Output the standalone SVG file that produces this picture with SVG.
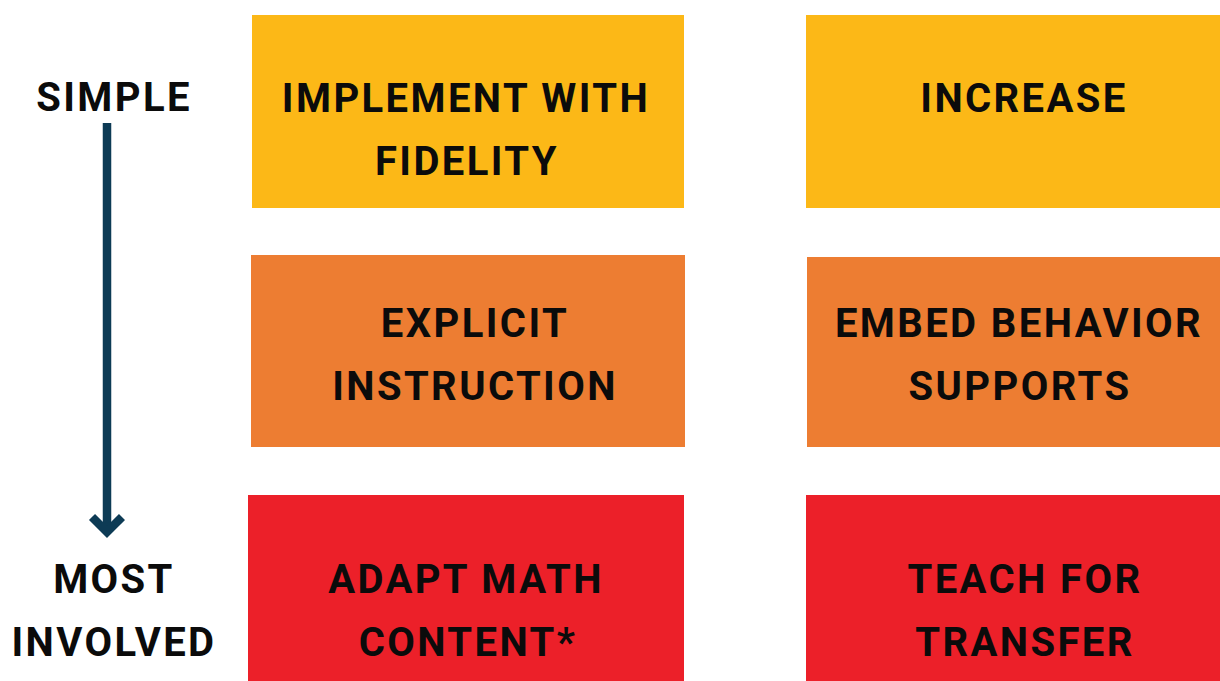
<svg xmlns="http://www.w3.org/2000/svg" width="1220" height="681" viewBox="0 0 1220 681">
<style>
.t{font-family:Roboto,"Liberation Sans",sans-serif;font-weight:700;font-size:40px;letter-spacing:2.4px;fill:#0b0b0b;text-anchor:middle}
.y{fill:#FCB817}.o{fill:#ED7D32}.r{fill:#EC2029}
</style>
<rect width="1220" height="681" fill="#fff"/>
<g id="label-simple"><text class="t" x="114" y="111">SIMPLE</text></g>
<g id="label-most"><text class="t" x="114" y="593">MOST</text><text class="t" x="114" y="656">INVOLVED</text></g>
<g id="connectors" fill="none" stroke="#0D3B55" stroke-width="8.5">
<line x1="107" y1="123" x2="107" y2="530"/>
<polyline points="92,517 107,532 122,517" stroke-linejoin="miter"/>
</g>
<g id="n1"><rect class="y" x="252" y="15" width="432" height="193"/><text class="t" x="466" y="112">IMPLEMENT WITH</text><text class="t" x="467" y="175">FIDELITY</text></g>
<g id="n2"><rect class="y" x="806" y="15" width="414" height="193"/><text class="t" x="1024" y="112">INCREASE</text></g>
<g id="n3"><rect class="o" x="251" y="255" width="434" height="192"/><text class="t" x="475" y="337">EXPLICIT</text><text class="t" x="475" y="400">INSTRUCTION</text></g>
<g id="n4"><rect class="o" x="807" y="257" width="413" height="190"/><text class="t" x="1019" y="337">EMBED BEHAVIOR</text><text class="t" x="1020" y="400">SUPPORTS</text></g>
<g id="n5"><rect class="r" x="248" y="495" width="436" height="186"/><text class="t" x="466" y="593">ADAPT MATH</text><text class="t" x="468" y="656">CONTENT*</text></g>
<g id="n6"><rect class="r" x="806" y="495" width="414" height="186"/><text class="t" x="1025" y="593">TEACH FOR</text><text class="t" x="1025" y="656">TRANSFER</text></g>
</svg>
